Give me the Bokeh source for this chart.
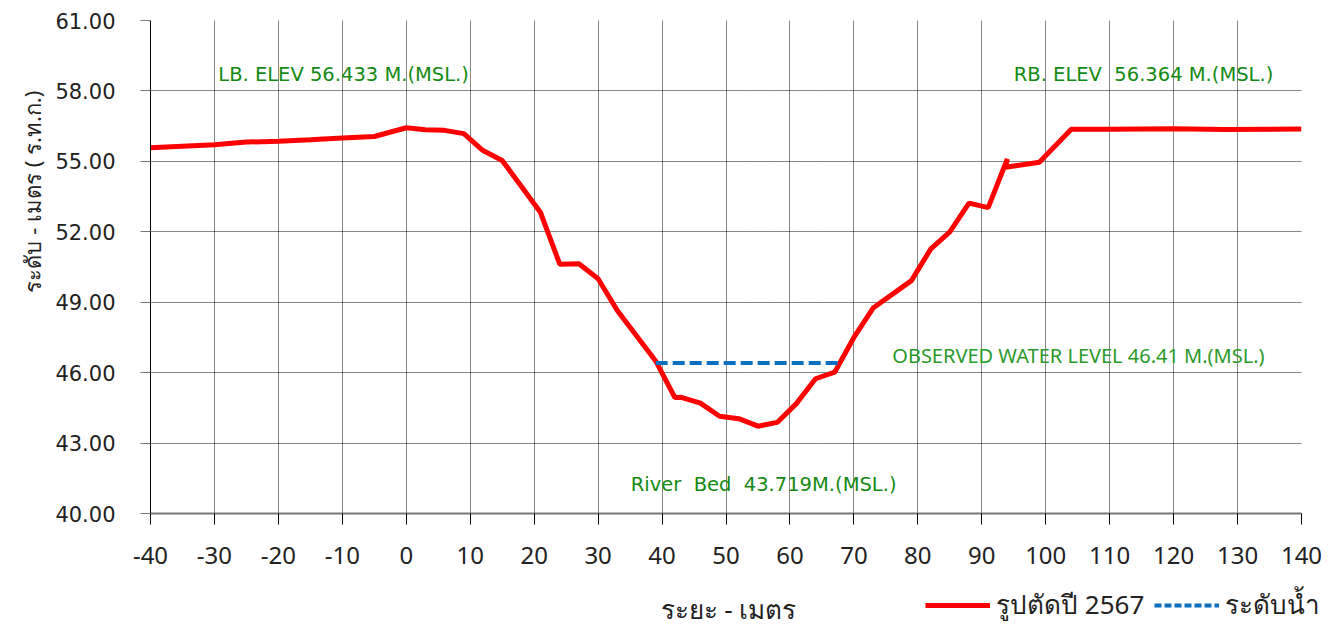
from bokeh.plotting import figure
from bokeh.layouts import column, row
from bokeh.models import (Range1d, FixedTicker, CustomJSTickFormatter, Label,
                          Legend, LegendItem, ColumnDataSource, Title)
from bokeh.core.properties import value
from bokeh.embed import file_html
from bokeh.resources import INLINE

# ---- data ----
distance = [-40, -30, -25, -20, -15, -10, -5, 0, 3, 6, 9, 12, 15, 21, 24, 27, 30, 33,
            39, 42, 43, 46, 49, 52, 55, 58, 61, 64, 67, 70, 73, 79, 82, 85, 88, 91,
            94, 93.7, 99, 104, 110, 120, 128, 140]
elevation = [55.58, 55.71, 55.82, 55.86, 55.92, 55.99, 56.06, 56.433, 56.35, 56.32, 56.18,
             55.46, 55.04, 52.82, 50.62, 50.64, 50.0, 48.65, 46.5, 44.94, 44.95, 44.7,
             44.14, 44.04, 43.719, 43.88, 44.68, 45.74, 46.02, 47.5, 48.75, 49.92, 51.26,
             52.0, 53.22, 53.03, 55.1, 54.75, 54.96, 56.364, 56.37, 56.39, 56.36, 56.38]
water_x = [39, 67.5]
water_y = [46.41, 46.41]

x_ticks = list(range(-40, 141, 10))
y_ticks = [40, 43, 46, 49, 52, 55, 58, 61]

series_names = ["รูปตัดปี 2567", "ระดับน้ำ"]
x_title = "ระยะ - เมตร"
y_title = "ระดับ - เมตร ( ร.ท.ก.)"

NB = "\u00a0"
note_text = ["LB. ELEV 56.433 M.(MSL.)", "RB. ELEV " + NB + "56.364 M.(MSL.)",
             "River " + NB + "Bed " + NB + "43.719M.(MSL.)"]
note_x = [-29.4, 95.0, 35.1]
note_y = [58.72, 58.72, 41.24]
obs_text = "OBSERVED WATER LEVEL 46.41 M.(MSL.)"
obs_x, obs_y = 76.0, 46.73

GREEN = "#148a14"
RED = "#ff0000"
BLUE = "#0a70c0"
INK = "#222222"

p = figure(width=1331, height=580, output_backend="svg", toolbar_location=None,
           x_range=Range1d(-40, 140), y_range=Range1d(40, 61),
           min_border_left=150, min_border_right=30, min_border_top=20,
           min_border_bottom=67)
p.outline_line_color = None

# grid
for g, t in ((p.xgrid, x_ticks), (p.ygrid, y_ticks)):
    g.ticker = FixedTicker(ticks=t)
    g.grid_line_color = "#111111"
    g.grid_line_dash = "1 1"
    g.grid_line_width = 1

# axes
p.xaxis.ticker = FixedTicker(ticks=x_ticks)
p.yaxis.ticker = FixedTicker(ticks=y_ticks)
p.yaxis.formatter = CustomJSTickFormatter(code="return tick.toFixed(2)")
p.xaxis.formatter = CustomJSTickFormatter(code="return tick.toFixed(0)")
for ax in (p.xaxis, p.yaxis):
    ax.minor_tick_line_color = None
    ax.major_tick_in = 0
    ax.major_label_text_color = INK
p.yaxis.axis_line_color = "black"
p.yaxis.major_tick_line_color = "#777777"
p.yaxis.major_tick_out = 10
p.yaxis.major_label_standoff = 25
p.yaxis.major_label_text_font = "DejaVu Sans"
p.yaxis.major_label_text_font_size = "21px"
p.xaxis.axis_line_color = "#777777"
p.xaxis.axis_line_width = 2
p.xaxis.major_tick_line_color = "black"
p.xaxis.major_tick_out = 11
p.xaxis.major_label_standoff = 22
p.xaxis.major_label_text_font = "Noto Sans"
p.xaxis.major_label_text_font_size = "24px"

# y title
p.add_layout(Title(text=y_title, align="left", offset=221, standoff=11,
                   text_font="Noto Sans", text_font_size="22px",
                   text_font_style="normal", text_color=INK), "left")

# series
r_sec = p.line(distance, elevation, line_color=RED, line_width=5)
r_wat = p.line(water_x, water_y, line_color=BLUE, line_width=4, line_dash="12 5")

# notes
src = ColumnDataSource(dict(x=note_x, y=note_y, t=note_text))
p.text(x="x", y="y", text="t", source=src, text_color=GREEN,
       text_font=value("DejaVu Sans"), text_font_size="19.5px",
       text_align="left", text_baseline="middle")
p.text(x=[obs_x], y=[obs_y], text=[obs_text], text_color="#2a9a2a",
       text_font=value("Noto Sans"), text_font_size="20px",
       text_align="left", text_baseline="middle")

# bottom strip: x title + legend
p2 = figure(width=1331, height=50, output_backend="svg", toolbar_location=None,
            x_range=Range1d(0, 1), y_range=Range1d(0, 1),
            x_axis_type=None, y_axis_type=None, min_border=0)
p2.outline_line_color = None
p2.xgrid.visible = False
p2.ygrid.visible = False
p2.add_layout(Label(x=728, y=22, x_units="screen", y_units="screen", text=x_title,
                    text_font="Noto Sans", text_font_size="26px", text_color=INK,
                    text_font_style="normal",
                    text_align="center", text_baseline="middle"))
# legend samples reuse the series (they fall outside this strip's ranges)
l_sec = p2.line(distance, elevation, line_color=RED, line_width=5)
l_wat = p2.line(water_x, water_y, line_color=BLUE, line_width=4, line_dash="7 3")
legend = Legend(items=[LegendItem(label=series_names[0], renderers=[l_sec]),
                       LegendItem(label=series_names[1], renderers=[l_wat])],
                location=(925, 5), orientation="horizontal",
                glyph_width=65, glyph_height=24, label_standoff=6, spacing=10,
                padding=0, margin=0, border_line_color=None,
                background_fill_alpha=0, label_text_font="Noto Sans",
                label_text_font_size="26px", label_text_color=INK)
p2.add_layout(legend, "center")

open("out.html", "w").write(file_html(column(p, row(p2)), INLINE))
